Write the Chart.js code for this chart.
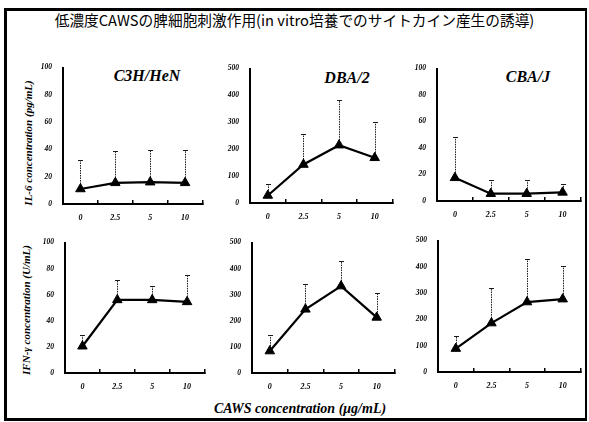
<!DOCTYPE html>
<html>
<head>
<meta charset="utf-8">
<script src="https://cdn.jsdelivr.net/npm/chart.js@4.4.0/dist/chart.umd.min.js"></script>
<style>
  html, body { margin: 0; padding: 0; background: #fff; }
  #page { position: relative; width: 589px; height: 422px; overflow: hidden; background: #fff; }
  .frame { position: absolute; left: 4px; top: 8px; width: 578px; height: 407px;
           border: 3px solid #000; border-right-width: 2px; }
  .title { position: absolute; left: 0; top: 9px; width: 589px; text-align: center;
           font-family: "Noto Sans CJK JP"; font-size: 14.7px; color: #000; white-space: nowrap; }
  .panel { position: absolute; }
  .serif { position: absolute; font-family: "Liberation Serif"; font-weight: bold; font-style: italic;
           color: #000; white-space: nowrap; }
  .ptitle { font-size: 16px; transform: translate(-50%, -50%); }
  .ytitle { font-size: 11px; transform: translate(-50%, -50%) rotate(-90deg); }
  .xtitle { font-size: 14px; transform: translate(-50%, -50%); }
</style>
</head>
<body>
<div id="page">
  <div class="frame"></div>
  <div class="title">低濃度CAWSの脾細胞刺激作用(in vitro培養でのサイトカイン産生の誘導)</div>

  <div class="serif ptitle" style="left:147px;top:76px;">C3H/HeN</div>
  <div class="serif ptitle" style="left:347px;top:78px;">DBA/2</div>
  <div class="serif ptitle" style="left:528px;top:77px;">CBA/J</div>

  <div class="serif ytitle" style="left:28px;top:143px;">IL-6 concentration (pg/mL)</div>
  <div class="serif ytitle" style="left:26px;top:310px;">IFN-γ concentration (U/mL)</div>
  <div class="serif xtitle" style="left:300px;top:409px;">CAWS concentration (μg/mL)</div>
</div>

<script>
// CAWS doses (µg/mL) on the x axis
const doses = ['0', '2.5', '5', '10'];

// IL-6 (pg/mL): means and upper ends of the SD bars
const il6C3H = [11, 15.5, 16, 15.5];
const il6C3HUpper = [32, 38.5, 39.5, 39.5];
const il6DBA = [28, 143, 215, 168];
const il6DBAUpper = [71, 258, 382, 300];
const il6CBA = [17.5, 5.5, 5.5, 6.5];
const il6CBAUpper = [48.5, 16, 15.5, 13];

// IFN-γ (U/mL): means and upper ends of the SD bars
const ifnC3H = [20.5, 56, 56, 54.5];
const ifnC3HUpper = [29, 71, 67, 75];
const ifnDBA = [84, 244, 333, 213];
const ifnDBAUpper = [146, 342, 428, 305];
const ifnCBA = [89, 186, 266, 277];
const ifnCBAUpper = [138, 318, 430, 403];

// y-axis tick ranges
const range100 = { max: 100, step: 20 };
const range500 = { max: 500, step: 100 };

// Upward-only SD bars, drawn under the line and markers
const errorBars = {
  id: 'errorBars',
  beforeDatasetsDraw(chart) {
    const { ctx, scales: { x, y } } = chart;
    const ds = chart.data.datasets[0];
    ctx.save();
    ctx.strokeStyle = '#1a1a1a';
    ctx.lineWidth = 1;
    ds.errorTop.forEach((top, i) => {
      const px = Math.round(x.getPixelForValue(i)) + 0.5;
      const y0 = y.getPixelForValue(ds.data[i]);
      const y1 = Math.round(y.getPixelForValue(top)) + 0.5;
      ctx.setLineDash([1.5, 1]);
      ctx.beginPath(); ctx.moveTo(px, y0); ctx.lineTo(px, y1); ctx.stroke();
      ctx.setLineDash([]);
      ctx.beginPath(); ctx.moveTo(px - 2.5, y1); ctx.lineTo(px + 2.5, y1); ctx.stroke();
    });
    ctx.restore();
  }
};

const tickFont = (size) => ({ family: 'Liberation Serif', size, weight: 'bold', style: 'italic' });

function panel(box, values, upper, range) {
  const padTop = 10, padRight = 4, yW = 40, xH = 24;
  const w = box.right - box.left + yW + padRight;
  const h = box.bottom - box.top + padTop + xH;
  const div = document.createElement('div');
  div.className = 'panel';
  div.style.left = (box.left - yW) + 'px';
  div.style.top = (box.top - padTop) + 'px';
  const canvas = document.createElement('canvas');
  canvas.width = w; canvas.height = h;
  canvas.style.width = w + 'px'; canvas.style.height = h + 'px';
  div.appendChild(canvas);
  document.getElementById('page').appendChild(div);

  new Chart(canvas, {
    type: 'line',
    data: {
      labels: doses,
      datasets: [{
        data: values,
        errorTop: upper,
        borderColor: '#000',
        borderWidth: 2.2,
        tension: 0,
        pointStyle: 'triangle',
        pointRadius: 5.5,
        pointBackgroundColor: '#000',
        pointBorderColor: '#000',
        pointBorderWidth: 1
      }]
    },
    options: {
      responsive: false,
      animation: false,
      devicePixelRatio: 1,
      layout: { padding: { top: padTop, right: padRight, left: 0, bottom: 0 } },
      plugins: { legend: { display: false }, tooltip: { enabled: false } },
      scales: {
        x: {
          type: 'category',
          offset: true,
          grid: { display: true, drawOnChartArea: false, drawTicks: true, tickLength: -4,
                  offset: true, color: '#000', lineWidth: 1.5 },
          border: { display: true, color: '#000', width: 2 },
          ticks: { padding: 13, color: '#000', font: tickFont(8), maxRotation: 0, autoSkip: false },
          afterFit: (s) => { s.height = xH; }
        },
        y: {
          min: 0, max: range.max,
          grid: { display: false, drawTicks: false },
          border: { display: true, color: '#000', width: 2 },
          ticks: { stepSize: range.step, padding: 11, color: '#000', font: tickFont(7.5) },
          afterFit: (s) => { s.width = yW; }
        }
      }
    },
    plugins: [errorBars]
  });
}

panel({ left: 63, right: 205, top: 62, bottom: 204 }, il6C3H, il6C3HUpper, range100);
panel({ left: 250, right: 395, top: 63, bottom: 203 }, il6DBA, il6DBAUpper, range500);
panel({ left: 437, right: 583, top: 63, bottom: 201 }, il6CBA, il6CBAUpper, range100);
panel({ left: 65, right: 207, top: 237, bottom: 373 }, ifnC3H, ifnC3HUpper, range100);
panel({ left: 252, right: 397, top: 237, bottom: 373 }, ifnDBA, ifnDBAUpper, range500);
panel({ left: 438, right: 583, top: 235, bottom: 372 }, ifnCBA, ifnCBAUpper, range500);
</script>
</body>
</html>
